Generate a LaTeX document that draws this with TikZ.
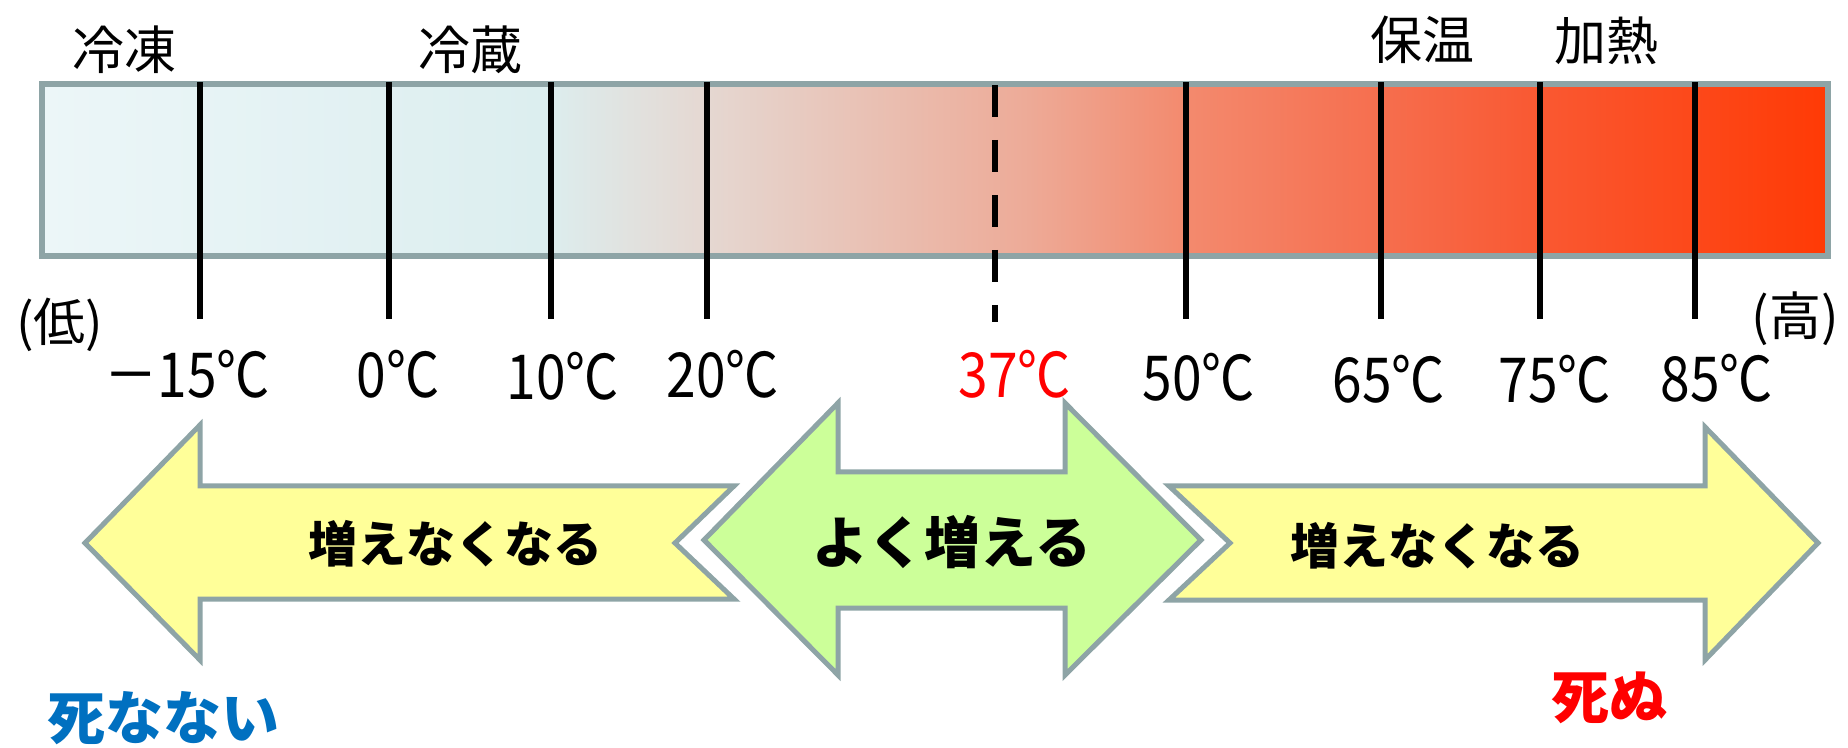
\documentclass[tikz,border=0pt]{standalone}
\usepackage{fontspec}
\setmainfont{Noto Sans CJK JP}
\newfontfamily\numfont[FakeStretch=0.86]{Noto Sans CJK JP}
\definecolor{g0}{HTML}{ECF6F8}
\definecolor{g1}{HTML}{DCEEEF}
\definecolor{g2}{HTML}{E5D8D2}
\definecolor{g3}{HTML}{EDAB98}
\definecolor{g4}{HTML}{F38A6E}
\definecolor{g5}{HTML}{F66E4E}
\definecolor{g6}{HTML}{F95A34}
\definecolor{g7}{HTML}{FF3A05}
\definecolor{edgegray}{HTML}{8EA4A6}
\definecolor{arrowyellow}{HTML}{FFFF99}
\definecolor{arrowgreen}{HTML}{CCFF99}
\definecolor{deathblue}{HTML}{0070C0}
\definecolor{deathred}{HTML}{FF0000}
\pgfdeclarehorizontalshading{barshade}{100bp}{color(0bp)=(g0); color(25bp)=(g0); color(39bp)=(g1); color(43.5bp)=(g2); color(52.5bp)=(g3); color(57bp)=(g4); color(62.5bp)=(g5); color(66.5bp)=(g6); color(75bp)=(g7); color(100bp)=(g7)}
\tikzset{
  tickline/.style={line width=2.8pt, black},
  tickdashed/.style={line width=2.8pt, black, dash pattern=on 16pt off 11.5pt},
  bararrow/.style={draw=edgegray, line width=2.5pt, line join=miter, miter limit=10},
  toplabel/.style={font=\fontsize{26}{30}\selectfont, inner sep=0pt},
  templabel/.style={font=\numfont\fontsize{31}{35}\selectfont, inner sep=0pt},
  arrowtext/.style={font=\bfseries\fontsize{24.5}{28}\selectfont, inner sep=0pt},
  deathtext/.style={font=\bfseries\fontsize{29}{33}\selectfont, inner sep=0pt},
}
\begin{document}
\begin{tikzpicture}[x=0.5pt, y=-0.5pt]
\useasboundingbox (0,0) rectangle (1848,748);
% bar
\path[shading=barshade] (42,84) rectangle (1828,256);
\draw[edgegray, line width=2.6pt] (42,84) rectangle (1828,256);
% ticks
\foreach \n/\x in {1/200,2/389,3/551,4/707,6/1186,7/1381,8/1540,9/1695}{
  \coordinate (tk\n a) at (\x,82);
  \coordinate (tk\n b) at (\x,319);
  \draw[tickline] (tk\n a) -- (tk\n b);
}
\coordinate (tk5a) at (995,85);
\coordinate (tk5b) at (995,322);
\draw[tickdashed] (tk5a) -- (tk5b);
% top labels
\node[toplabel] (reito) at (124,50) {冷凍};
\node[toplabel] (reizo) at (470,50) {冷蔵};
\node[toplabel] (hoon) at (1422,40) {保温};
\node[toplabel] (kanetsu) at (1606,41) {加熱};
\node[toplabel] (low) at (60,325) {(低)};
\node[toplabel] (high) at (1795,319) {(高)};
% temperature labels
\node[templabel] (m15) at (187,374) {－15℃};
\node[templabel] (z0) at (398,374) {0℃};
\node[templabel] (p10) at (563,376) {10℃};
\node[templabel] (p20) at (723,374) {20℃};
\node[templabel, text=deathred] (p37) at (1015,374) {37℃};
\node[templabel] (p50) at (1199,377) {50℃};
\node[templabel] (p65) at (1389,379) {65℃};
\node[templabel] (p75) at (1555,379) {75℃};
\node[templabel] (p85) at (1717,378) {85℃};
% arrows
\draw[bararrow, fill=arrowyellow] (85,543) -- (200,425) -- (200,486) -- (734,486) -- (675,543) -- (734,599) -- (200,599) -- (200,660) -- cycle;
\draw[bararrow, fill=arrowgreen] (704,540) -- (838,403) -- (838,472) -- (1065,472) -- (1065,403) -- (1201,540) -- (1065,675) -- (1065,608) -- (838,608) -- (838,675) -- cycle;
\draw[bararrow, fill=arrowyellow] (1169,486) -- (1705,486) -- (1705,427) -- (1818,543) -- (1705,660) -- (1705,600) -- (1169,600) -- (1230,543) -- cycle;
\node[arrowtext] (slowleft) at (455,544) {増えなくなる};
\node[arrowtext, font=\bfseries\fontsize{28}{32}\selectfont] (grow) at (952,542) {よく増える};
\node[arrowtext] (slowright) at (1437,546) {増えなくなる};
% death labels
\node[deathtext, text=deathblue] (nodie) at (163,718) {死なない};
\node[deathtext, text=deathred] (die) at (1609,698) {死ぬ};
\end{tikzpicture}
\end{document}
